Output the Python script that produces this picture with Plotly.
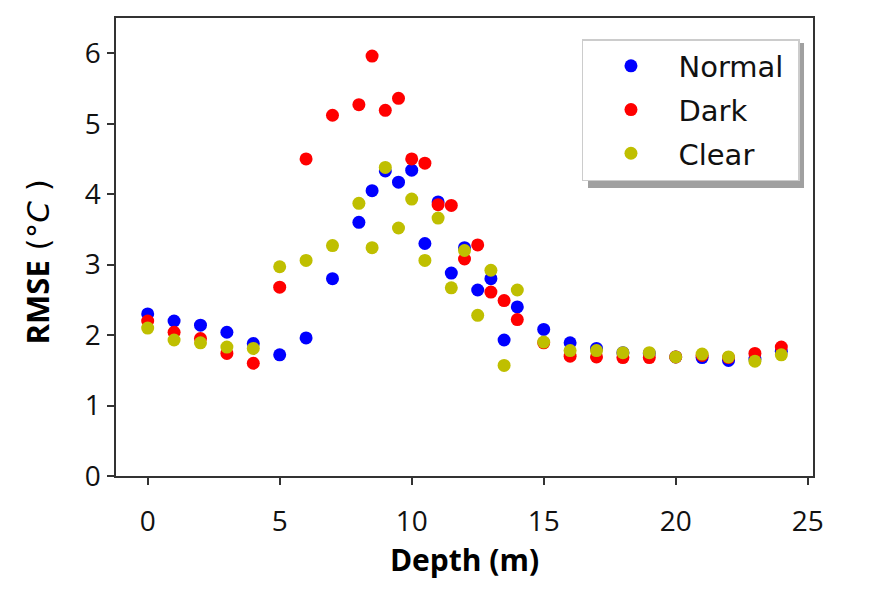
import plotly.graph_objects as go

# depth of each sample (m)
depth = [0, 1, 2, 3, 4, 5, 6, 7, 8, 8.5, 9, 9.5, 10, 10.5, 11, 11.5, 12, 12.5,
         13, 13.5, 14, 15, 16, 17, 18, 19, 20, 21, 22, 23, 24]

# RMSE per depth for each case
rmse_normal = [2.30, 2.20, 2.14, 2.04, 1.88, 1.72, 1.96, 2.80, 3.60, 4.05, 4.33,
               4.17, 4.34, 3.30, 3.89, 2.88, 3.24, 2.64, 2.80, 1.93, 2.40, 2.08,
               1.89, 1.81, 1.75, 1.74, 1.69, 1.68, 1.64, 1.66, 1.77]
rmse_dark = [2.20, 2.04, 1.95, 1.74, 1.60, 2.68, 4.50, 5.12, 5.27, 5.96, 5.19,
             5.36, 4.50, 4.44, 3.85, 3.84, 3.08, 3.28, 2.61, 2.49, 2.22, 1.89,
             1.70, 1.69, 1.68, 1.68, 1.69, 1.71, 1.68, 1.74, 1.83]
rmse_clear = [2.10, 1.93, 1.89, 1.83, 1.81, 2.97, 3.06, 3.27, 3.87, 3.24, 4.38,
              3.52, 3.93, 3.06, 3.66, 2.67, 3.20, 2.28, 2.92, 1.57, 2.64, 1.90,
              1.78, 1.78, 1.75, 1.75, 1.69, 1.73, 1.69, 1.63, 1.72]

x_ticks = [0, 5, 10, 15, 20, 25]
y_ticks = [0, 1, 2, 3, 4, 5, 6]

series = [
    ("Normal", rmse_normal, "#0000ff"),
    ("Dark", rmse_dark, "#ff0000"),
    ("Clear", rmse_clear, "#bfbf00"),
]

fig = go.Figure()
for name, vals, color in series:
    fig.add_trace(
        go.Scatter(
            x=depth,
            y=vals,
            mode="markers",
            name=name + "\u00a0",
            legendgroup=name,
            marker=dict(color=color, size=13, line=dict(width=0)),
        )
    )

axis_style = dict(
    showline=True,
    linecolor="#333333",
    linewidth=1.5,
    mirror=True,
    showgrid=False,
    zeroline=False,
    ticks="outside",
    ticklen=7,
    tickwidth=1.5,
    tickcolor="#333333",
    tickfont=dict(family="Open Sans", size=28, color="#111111"),
)

fig.update_xaxes(
    range=[-1.2, 25.2],
    tickvals=x_ticks,
    title=dict(
        # leading nbsp nudges the title a little right, as in the original
        text="\u00a0\u00a0<b>Depth (m)</b>",
        font=dict(family="Open Sans", size=30, color="#000000"),
        standoff=6,
    ),
    ticklabelstandoff=13,
    **axis_style,
)
fig.update_yaxes(
    range=[0, 6.5],
    tickvals=y_ticks,
    title=dict(
        # trailing nbsp pushes the visible text down a bit
        text="<b>RMSE</b><span style=\"font-family:'DejaVu Sans'\"> (°"
             "<i>C</i> )\u00a0\u00a0\u00a0</span>",
        font=dict(family="Open Sans", size=31, color="#000000"),
        standoff=26,
    ),
    ticklabelstandoff=1,
    **axis_style,
)

# legend shadow, like matplotlib's shadow=True
fig.add_shape(
    type="rect", xref="paper", yref="paper",
    x0=0.6772, x1=0.9871, y0=0.6288, y1=0.9454,
    fillcolor="#a0a0a0", line=dict(width=0), layer="below",
)

fig.update_layout(
    width=869,
    height=610,
    margin=dict(l=116, r=56, t=18, b=134),
    paper_bgcolor="white",
    plot_bgcolor="white",
    showlegend=True,
    legend=dict(
        x=0.9813, y=0.9541, xanchor="right", yanchor="top",
        bgcolor="white",
        bordercolor="#cccccc",
        borderwidth=1.5,
        font=dict(family="DejaVu Sans", size=29, color="#111111"),
        itemwidth=85,
        traceorder="grouped",
        tracegroupgap=3,
    ),
)

# the page body has a default 8px margin; drop it so the figure sits at 0,0
fig.write_html(
    "out.html",
    config={"displayModeBar": False},
    post_script="document.body.style.margin='0px';",
)
